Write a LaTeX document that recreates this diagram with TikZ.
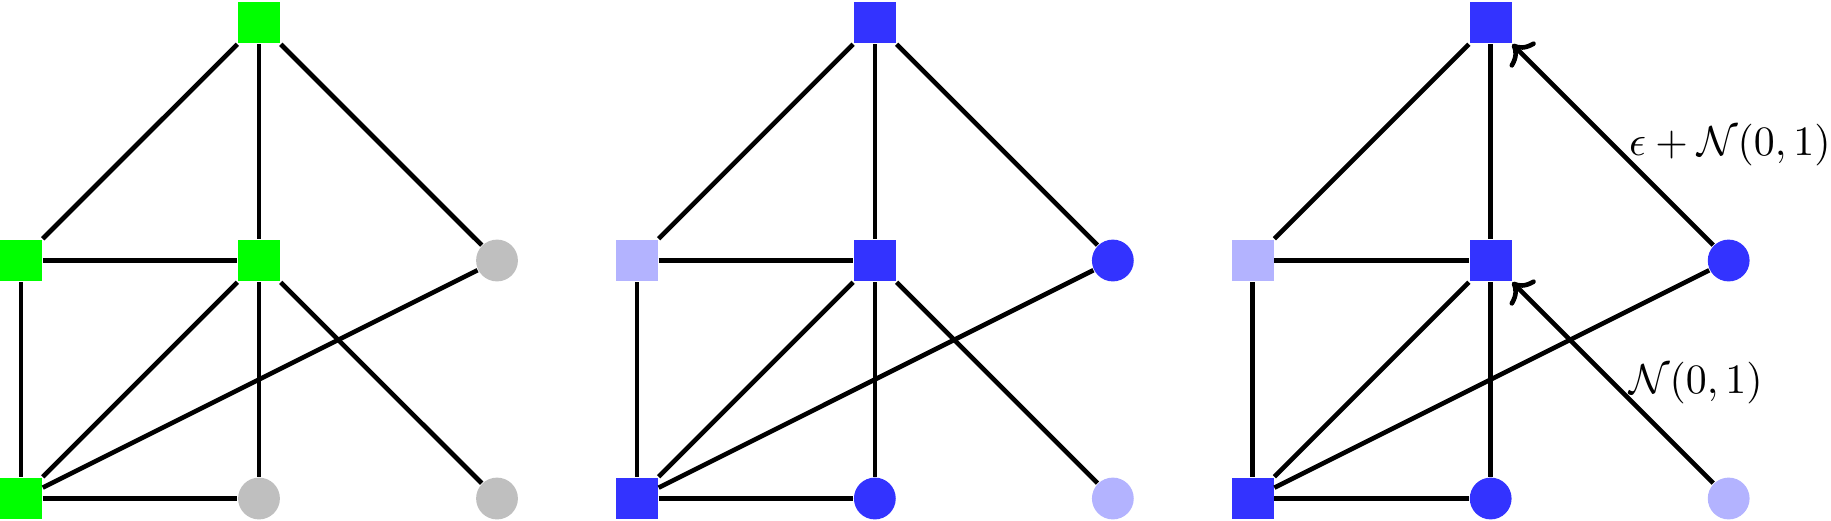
\documentclass[tikz,border=0pt]{standalone}
\usetikzlibrary{arrows.meta}
\definecolor{mygreen}{RGB}{0,255,0}
\definecolor{myblue}{RGB}{51,51,255}
\definecolor{lblue}{RGB}{179,179,255}
\definecolor{lgray}{RGB}{191,191,191}
\begin{document}
\begin{tikzpicture}[
  sq/.style={rectangle, minimum size=10pt, inner sep=0pt},
  cir/.style={circle, minimum size=10pt, inner sep=0pt},
  edge/.style={line width=1.1pt},
  arr/.style={line width=1.1pt, -{Computer Modern Rightarrow}},
]
\useasboundingbox (-0.1765,-0.1807) rectangle (15.21,4.189);
% panel 1
\begin{scope}[xshift=0cm]
\node[sq, fill=mygreen] (a1) at (2,4) {};
\node[sq, fill=mygreen] (b1) at (0,2) {};
\node[sq, fill=mygreen] (c1) at (2,2) {};
\node[cir, fill=lgray] (d1) at (4,2) {};
\node[sq, fill=mygreen] (e1) at (0,0) {};
\node[cir, fill=lgray] (f1) at (2,0) {};
\node[cir, fill=lgray] (g1) at (4,0) {};
\end{scope}
% panel 2
\begin{scope}[xshift=5.175cm]
\node[sq, fill=myblue] (a2) at (2,4) {};
\node[sq, fill=lblue] (b2) at (0,2) {};
\node[sq, fill=myblue] (c2) at (2,2) {};
\node[cir, fill=myblue] (d2) at (4,2) {};
\node[sq, fill=myblue] (e2) at (0,0) {};
\node[cir, fill=myblue] (f2) at (2,0) {};
\node[cir, fill=lblue] (g2) at (4,0) {};
\end{scope}
% panel 3
\begin{scope}[xshift=10.35cm]
\node[sq, fill=myblue] (a3) at (2,4) {};
\node[sq, fill=lblue] (b3) at (0,2) {};
\node[sq, fill=myblue] (c3) at (2,2) {};
\node[cir, fill=myblue] (d3) at (4,2) {};
\node[sq, fill=myblue] (e3) at (0,0) {};
\node[cir, fill=myblue] (f3) at (2,0) {};
\node[cir, fill=lblue] (g3) at (4,0) {};
\end{scope}
\foreach \p in {1,2} {
  \draw[edge] (a\p) -- (b\p);
  \draw[edge] (a\p) -- (c\p);
  \draw[edge] (a\p) -- (d\p);
  \draw[edge] (b\p) -- (c\p);
  \draw[edge] (b\p) -- (e\p);
  \draw[edge] (c\p) -- (e\p);
  \draw[edge] (c\p) -- (f\p);
  \draw[edge] (c\p) -- (g\p);
  \draw[edge] (d\p) -- (e\p);
  \draw[edge] (e\p) -- (f\p);
}
\draw[edge] (a3) -- (b3);
\draw[edge] (a3) -- (c3);
\draw[edge] (b3) -- (c3);
\draw[edge] (b3) -- (e3);
\draw[edge] (c3) -- (e3);
\draw[edge] (c3) -- (f3);
\draw[edge] (d3) -- (e3);
\draw[edge] (e3) -- (f3);
\draw[arr] (d3) -- node[right] {$\epsilon+\mathcal{N}(0,1)$} (a3);
\draw[arr] (g3) -- node[right] {$\mathcal{N}(0,1)$} (c3);
\end{tikzpicture}
\end{document}
